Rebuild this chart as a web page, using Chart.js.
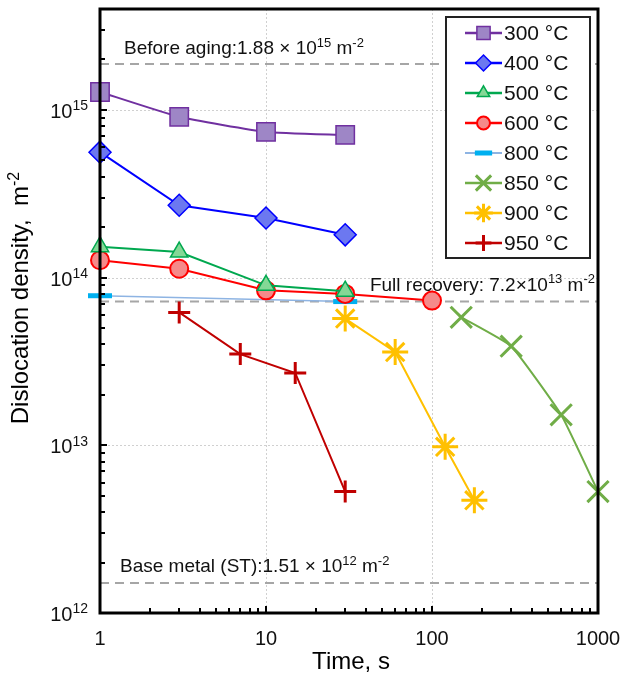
<!DOCTYPE html>
<html>
<head>
<meta charset="utf-8">
<script src="https://cdn.jsdelivr.net/npm/chart.js@4"></script>
<style>
  html, body { margin: 0; padding: 0; background: #fff; }
  #wrap { width: 622px; height: 675px; }
</style>
</head>
<body>
<div id="wrap"><canvas id="chart" width="622" height="675"></canvas></div>
<script>
// series data (time in s, dislocation density in m^-2)
const labels = ["300 °C", "400 °C", "500 °C", "600 °C", "800 °C", "850 °C", "900 °C", "950 °C"];
const t300 = [1, 3, 10, 30];
const d300 = [1.28e15, 9.1e14, 7.4e14, 7.1e14];
const t400 = [1, 3, 10, 30];
const d400 = [5.6e14, 2.7e14, 2.27e14, 1.8e14];
const t500 = [1, 3, 10, 30];
const d500 = [1.53e14, 1.42e14, 9.0e13, 8.3e13];
const t600 = [1, 3, 10, 30, 100];
const d600 = [1.27e14, 1.13e14, 8.4e13, 8.0e13, 7.3e13];
const t800 = [1, 30];
const d800 = [7.8e13, 7.2e13];
const t850 = [150, 300, 600, 1000];
const d850 = [5.8e13, 3.9e13, 1.52e13, 5.3e12];
const t900 = [30, 60, 120, 180];
const d900 = [5.7e13, 3.6e13, 9.8e12, 4.7e12];
const t950 = [3, 7, 15, 30];
const d950 = [6.2e13, 3.5e13, 2.7e13, 5.3e12];

// reference lines
const refValues = [1.88e15, 7.2e13, 1.51e12];

// axes
const xTicks = [1, 10, 100, 1000];
const yTicks = [1e12, 1e13, 1e14, 1e15];

function pts(xs, ys) {
  return xs.map((x, i) => ({ x: x, y: ys[i] }));
}

function series(label, xs, ys, line, fill, style, radius, bw, lw, tension) {
  return {
    label: label,
    data: pts(xs, ys),
    borderColor: line,
    borderWidth: lw || 2,
    backgroundColor: fill,
    pointStyle: style,
    pointRadius: radius,
    pointHoverRadius: radius,
    pointBackgroundColor: fill,
    pointBorderColor: line,
    pointBorderWidth: bw,
    tension: tension || 0,
    clip: false,
  };
}

const datasets = [
  series(labels[0], t300, d300, "#7030A0", "#9E86C6", "rect", 13, 1.5, 2, 0.15),
  series(labels[1], t400, d400, "#0000FF", "#6C78F0", "rectRot", 11, 1.5),
  series(labels[2], t500, d500, "#00A84F", "#84D896", "triangle", 10, 1.5),
  series(labels[3], t600, d600, "#FF0000", "#F58A8A", "circle", 9, 2),
  series(labels[4], t800, d800, "#8EB4E3", "#00B0F0", "line", 12, 5, 1.5),
  series(labels[5], t850, d850, "#70AD47", "#70AD47", "crossRot", 15, 3, 2, 0.12),
  series(labels[6], t900, d900, "#FFC000", "#FFC000", "star", 13, 3),
  series(labels[7], t950, d950, "#C00000", "#C00000", "cross", 11, 3),
];
datasets[4].pointBorderColor = "#00B0F0";

const FONT = "'Liberation Sans', Arial, sans-serif";

// draws text pieces; pieces marked sup are smaller and raised
function drawRich(ctx, parts, x, y, size, align) {
  const sup = Math.round(size * 0.68);
  let total = 0;
  parts.forEach((p) => {
    ctx.font = (p[1] ? sup : size) + "px " + FONT;
    total += ctx.measureText(p[0]).width;
  });
  let cx = align === "right" ? x - total : align === "center" ? x - total / 2 : x;
  ctx.textAlign = "left";
  ctx.textBaseline = "alphabetic";
  parts.forEach((p) => {
    ctx.font = (p[1] ? sup : size) + "px " + FONT;
    ctx.fillText(p[0], cx, p[1] ? y - size * 0.38 : y);
    cx += ctx.measureText(p[0]).width;
  });
}

function marker(ctx, ds, x, y, scale) {
  ctx.save();
  ctx.fillStyle = ds.pointBackgroundColor;
  ctx.strokeStyle = ds.pointBorderColor;
  ctx.lineWidth = ds.pointBorderWidth;
  Chart.helpers.drawPoint(ctx, {
    pointStyle: ds.pointStyle,
    rotation: 0,
    radius: ds.pointRadius * scale,
    borderWidth: ds.pointBorderWidth,
  }, x, y);
  ctx.restore();
}

const decor = {
  id: "decor",
  beforeDatasetsDraw(chart) {
    const { ctx, chartArea: a, scales } = chart;
    const xs = scales.x, ys = scales.y;
    ctx.save();
    // major grid
    ctx.strokeStyle = "#D0D0D0";
    ctx.lineWidth = 1;
    ctx.setLineDash([2, 2]);
    xTicks.slice(1, -1).forEach((v) => {
      const px = Math.round(xs.getPixelForValue(v)) + 0.5;
      ctx.beginPath(); ctx.moveTo(px, a.top); ctx.lineTo(px, a.bottom); ctx.stroke();
    });
    yTicks.slice(1).forEach((v) => {
      const py = Math.round(ys.getPixelForValue(v)) + 0.5;
      ctx.beginPath(); ctx.moveTo(a.left, py); ctx.lineTo(a.right, py); ctx.stroke();
    });
    // reference lines
    ctx.strokeStyle = "#A6A6A6";
    ctx.lineWidth = 2;
    ctx.setLineDash([9, 6]);
    refValues.forEach((v) => {
      const py = ys.getPixelForValue(v);
      ctx.beginPath(); ctx.moveTo(a.left, py); ctx.lineTo(a.right, py); ctx.stroke();
    });
    ctx.setLineDash([]);
    ctx.fillStyle = "#111";
    const y0 = ys.getPixelForValue(refValues[0]);
    drawRich(ctx, [["Before aging:1.88", 0], [" \u00d7 ", 0], ["10", 0], ["15", 1], [" m", 0], ["-2", 1]],
      a.left + 24, y0 - 10, 19, "left");
    const y1 = ys.getPixelForValue(refValues[1]);
    drawRich(ctx, [["Full recovery: 7.2", 0], ["\u00d7", 0], ["10", 0], ["13", 1], [" m", 0], ["-2", 1]],
      a.right - 3, y1 - 11, 19, "right");
    const y2 = ys.getPixelForValue(refValues[2]);
    drawRich(ctx, [["Base metal (ST):1.51", 0], [" \u00d7 ", 0], ["10", 0], ["12", 1], [" m", 0], ["-2", 1]],
      a.left + 20, y2 - 11, 19, "left");
    ctx.restore();
  },
  afterDraw(chart) {
    const { ctx, chartArea: a, scales } = chart;
    const xs = scales.x, ys = scales.y;
    ctx.save();
    // inward ticks
    ctx.strokeStyle = "#000";
    ctx.lineWidth = 2;
    for (let d = 1; d < 1000; d *= 10) {
      for (let m = 1; m <= 9; m++) {
        const px = Math.round(xs.getPixelForValue(d * m));
        const len = m === 1 ? 7 : 5;
        ctx.beginPath(); ctx.moveTo(px, a.bottom); ctx.lineTo(px, a.bottom - len); ctx.stroke();
      }
    }
    for (let d = 1e12; d < 4e15; d *= 10) {
      for (let m = 1; m <= 9; m++) {
        const v = d * m;
        if (v > 4e15) break;
        const py = Math.round(ys.getPixelForValue(v));
        const len = m === 1 ? 7 : 5;
        ctx.beginPath(); ctx.moveTo(a.left, py); ctx.lineTo(a.left + len, py); ctx.stroke();
      }
    }
    // frame
    ctx.lineWidth = 3;
    ctx.strokeRect(a.left, a.top, a.right - a.left, a.bottom - a.top);
    // tick labels
    ctx.fillStyle = "#111";
    yTicks.forEach((v) => {
      const py = ys.getPixelForValue(v);
      drawRich(ctx, [["10", 0], [String(Math.round(Math.log10(v))), 1]], a.left - 12, py + 8, 20, "right");
    });
    ctx.font = "20px " + FONT;
    ctx.textAlign = "center";
    ctx.textBaseline = "middle";
    xTicks.forEach((v) => {
      ctx.fillText(String(v), xs.getPixelForValue(v), a.bottom + 26);
    });
    // axis titles
    ctx.fillStyle = "#000";
    ctx.font = "24px " + FONT;
    ctx.fillText("Time, s", (a.left + a.right) / 2 + 2, a.bottom + 49);
    ctx.save();
    ctx.translate(19, 298);
    ctx.rotate(-Math.PI / 2);
    drawRich(ctx, [["Dislocation density,  m", 0], ["-2", 1]], 0, 9, 24, "center");
    ctx.restore();
    // legend
    const lx = 446, ly = 17, lw = 144, lh = 241;
    ctx.fillStyle = "#fff";
    ctx.fillRect(lx, ly, lw, lh);
    ctx.strokeStyle = "#222";
    ctx.lineWidth = 2;
    ctx.strokeRect(lx, ly, lw, lh);
    chart.data.datasets.forEach((ds, i) => {
      const ry = ly + 16 + i * 30;
      ctx.strokeStyle = ds.borderColor;
      ctx.lineWidth = ds.borderWidth + 0.5;
      ctx.beginPath(); ctx.moveTo(465, ry); ctx.lineTo(502, ry); ctx.stroke();
      marker(ctx, ds, 483.5, ry, 0.72);
      ctx.fillStyle = "#111";
      ctx.font = "21px " + FONT;
      ctx.textAlign = "left";
      ctx.textBaseline = "middle";
      ctx.fillText(ds.label, 504, ry + 1);
    });
    ctx.restore();
  },
};

new Chart(document.getElementById("chart"), {
  type: "line",
  data: { datasets: datasets },
  options: {
    responsive: false,
    animation: false,
    events: [],
    layout: { autoPadding: false, padding: { left: 100, right: 24, top: 9, bottom: 62 } },
    plugins: { legend: { display: false }, tooltip: { enabled: false } },
    scales: {
      x: {
        type: "logarithmic",
        min: 1,
        max: 1000,
        grid: { display: false, drawTicks: false },
        border: { display: false },
        ticks: { display: false },
      },
      y: {
        type: "logarithmic",
        min: 1e12,
        max: 4e15,
        grid: { display: false, drawTicks: false },
        border: { display: false },
        ticks: { display: false },
      },
    },
  },
  plugins: [decor],
});
</script>
</body>
</html>
